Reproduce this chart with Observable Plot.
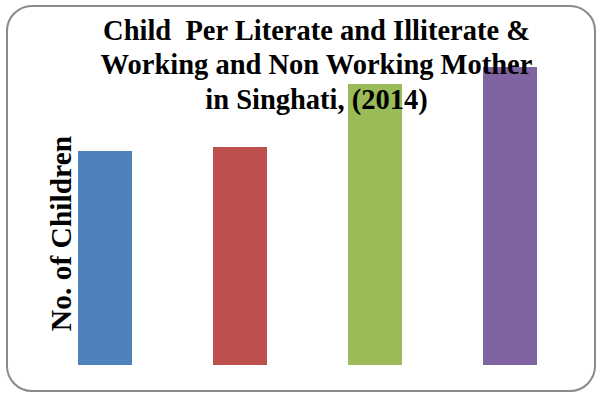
<!DOCTYPE html>
<html>
<head>
<meta charset="utf-8">
<script src="https://cdn.jsdelivr.net/npm/d3@7"></script>
<script src="https://cdn.jsdelivr.net/npm/@observablehq/plot@0.6"></script>
<style>
  html, body { margin: 0; padding: 0; background: #fff; }
  #wrap { position: relative; width: 600px; height: 394px; overflow: hidden; }
  #border { position: absolute; left: 6px; top: 5px; width: 590px; height: 387px; box-sizing: border-box;
            border: 2px solid #8a8a8a; border-radius: 26px; pointer-events: none; }
  #chart { position: absolute; left: 0; top: 0; }
</style>
</head>
<body>
<div id="wrap"><div id="chart"></div><div id="border"></div></div>
<script>
const categories = ["Literate", "Illiterate", "Working", "Non Working"];
const values = [2.14, 2.18, 2.81, 2.98];
const colors = ["#4F81BD", "#C0504D", "#9BBB59", "#8064A2"];
const titleLines = ["Child  Per Literate and Illiterate &", "Working and Non Working Mother", "in Singhati, (2014)"];
const yLabel = "No. of Children";

const data = categories.map((c, i) => ({category: c, value: values[i]}));
const font = "'Liberation Serif', 'Times New Roman', serif";

const chart = Plot.plot({
  width: 600,
  height: 394,
  marginLeft: 36.7,
  marginRight: 22.1,
  marginTop: 65,
  marginBottom: 29,
  style: {background: "transparent", fontFamily: font},
  x: {domain: categories, paddingInner: 0.6, paddingOuter: 0.3, axis: null},
  y: {domain: [0, 3], axis: null},
  color: {domain: categories, range: colors},
  marks: [
    Plot.barY(data, {x: "category", y: "value", fill: "category"}),
    Plot.text([titleLines.join("\n")], {
      frameAnchor: "top", lineAnchor: "top", dx: 8.7, dy: -50,
      fontSize: 28.5, fontWeight: "bold", lineHeight: 1.21, fill: "#000", fontFamily: font
    }),
    Plot.text([yLabel], {
      frameAnchor: "left", textAnchor: "middle", rotate: -90, lineAnchor: "bottom", dx: 34, dy: 18,
      fontSize: 29.5, fontWeight: "bold", fill: "#000", fontFamily: font
    })
  ]
});
document.getElementById("chart").appendChild(chart);
</script>
</body>
</html>
